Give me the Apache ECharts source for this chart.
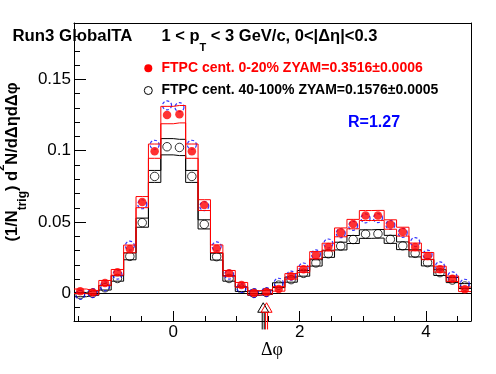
<!DOCTYPE html>
<html><head><meta charset="utf-8">
<script src="https://cdn.jsdelivr.net/npm/echarts@6/dist/echarts.min.js"></script>
<style>html,body{margin:0;padding:0;background:#fff}#c{width:496px;height:374px}</style>
</head><body><div id="c"></div>
<script>
// bin centres in delta-phi (32 bins over [-pi/2, 3pi/2])
const phi = [-1.4726,-1.2763,-1.0799,-0.8836,-0.6872,-0.4909,-0.2945,-0.0982,0.0982,0.2945,0.4909,0.6872,0.8836,1.0799,1.2763,1.4726,1.6690,1.8653,2.0617,2.2580,2.4544,2.6507,2.8471,3.0434,3.2398,3.4361,3.6325,3.8288,4.0252,4.2215,4.4179,4.6142];
const binWidth = 0.19635;
// FTPC cent. 0-20% (red, filled)
const redVals = [0.0015,0.0006,0.0073,0.0148,0.0312,0.0640,0.0997,0.1250,0.1256,0.0997,0.0619,0.0313,0.0141,0.0060,0.0004,0.0010,0.0032,0.0120,0.0169,0.0268,0.0325,0.0428,0.0486,0.0546,0.0547,0.0483,0.0433,0.0326,0.0262,0.0170,0.0103,0.0029];
const redSys  = [0.0016,0.0015,0.0018,0.0020,0.0027,0.0039,0.0050,0.0061,0.0061,0.0050,0.0038,0.0027,0.0020,0.0017,0.0015,0.0015,0.0016,0.0019,0.0021,0.0025,0.0027,0.0031,0.0033,0.0035,0.0035,0.0033,0.0031,0.0027,0.0025,0.0021,0.0019,0.0016];
// FTPC cent. 40-100% (black, open)
const blackVals = [-0.0008,0.0002,0.0040,0.0105,0.0260,0.0496,0.0820,0.1028,0.1023,0.0820,0.0484,0.0258,0.0105,0.0030,0.0002,0.0008,0.0058,0.0097,0.0141,0.0214,0.0278,0.0332,0.0378,0.0416,0.0418,0.0379,0.0334,0.0281,0.0216,0.0146,0.0094,0.0052];
const blackSys  = [0.0015,0.0015,0.0016,0.0019,0.0024,0.0032,0.0042,0.0057,0.0057,0.0042,0.0032,0.0024,0.0019,0.0016,0.0015,0.0015,0.0017,0.0018,0.0020,0.0022,0.0025,0.0027,0.0028,0.0030,0.0030,0.0028,0.0027,0.0025,0.0023,0.0020,0.0018,0.0017];
// peripheral scaled (blue, dashed open)
const blueVals = [-0.0010,0.0003,0.0050,0.0132,0.0335,0.0625,0.1042,0.1318,0.1305,0.1042,0.0612,0.0330,0.0132,0.0038,0.0003,0.0010,0.0075,0.0125,0.0182,0.0274,0.0350,0.0422,0.0474,0.0526,0.0528,0.0480,0.0425,0.0360,0.0272,0.0190,0.0120,0.0068];
// ZYAM positions
const zyamRed = 1.477, zyamBlack = 1.424;
// axis ticks
const yMajorTicks = [0, 0.05, 0.1, 0.15];
const yMinorTicks = [-0.01,0.01,0.02,0.03,0.04,0.06,0.07,0.08,0.09,0.11,0.12,0.13,0.14,0.16,0.17,0.18];
const xMajorTicks = [0, 2, 4];
const xMinorTicks = [-1.5,-1,-0.5,0.5,1,1.5,2.5,3,3.5,4.5];
const XMIN = -Math.PI/2, XMAX = 3*Math.PI/2;
const YMIN = -0.0193, YMAX = 0.1895;

function band(vals, sys, sign){
  const d = [[XMIN, vals[0] + sign*sys[0]]];
  for (let i = 0; i < phi.length; i++) d.push([phi[i], vals[i] + sign*sys[i]]);
  d.push([XMAX, vals[vals.length-1] + sign*sys[sys.length-1]]);
  return d;
}
function pts(vals){ return phi.map((x,i)=>[x, vals[i]]); }
function bandSeries(vals, sys, sign, color, z){
  return {type:'line', step:'middle', data:band(vals, sys, sign), showSymbol:false, symbol:'none',
    lineStyle:{color:color, width:1}, z:z, silent:true, animation:false};
}
function arrowSeries(x, color, z){
  return {type:'custom', data:[[x, 0]], clip:false, z:z, silent:true, animation:false,
    renderItem:function(params, api){
      const p = api.coord([api.value(0), api.value(1)]);
      const cx = p[0], y0 = p[1];
      const apex = y0 + 9.3, base = y0 + 18.8, bottom = y0 + 36;
      return {type:'group', children:[
        {type:'polygon', shape:{points:[[cx, apex],[cx-5.5, base],[cx+5.5, base]]}, style:{fill:'none', stroke:color, lineWidth:1}},
        {type:'line', shape:{x1:cx-1, y1:base, x2:cx-1, y2:bottom}, style:{stroke:color, lineWidth:1}},
        {type:'line', shape:{x1:cx+1, y1:base, x2:cx+1, y2:bottom}, style:{stroke:color, lineWidth:1}}
      ]};
    }};
}

const FONT = '"Liberation Sans", Arial, Helvetica, sans-serif';
const chart = echarts.init(document.getElementById('c'), null, {renderer:'canvas'});
const axisBase = {type:'value', min:XMIN, max:XMAX, splitLine:{show:false}};
chart.setOption({
  animation:false,
  backgroundColor:'#fff',
  grid:{left:74, right:25, top:23, bottom:53, show:false},
  xAxis:[
    Object.assign({}, axisBase, {position:'bottom',
      axisLine:{onZero:false, lineStyle:{color:'#000', width:1}},
      axisTick:{inside:true, length:10, customValues:xMajorTicks, lineStyle:{color:'#000'}},
      axisLabel:{customValues:xMajorTicks, fontSize:17, color:'#000', fontFamily:FONT, margin:2.5}}),
    Object.assign({}, axisBase, {position:'bottom',
      axisLine:{show:false, onZero:false},
      axisTick:{inside:true, length:5, customValues:xMinorTicks, lineStyle:{color:'#000'}},
      axisLabel:{show:false}}),
    Object.assign({}, axisBase, {position:'top',
      axisLine:{onZero:false, lineStyle:{color:'#000', width:1}},
      axisTick:{show:false}, axisLabel:{show:false}})
  ],
  yAxis:[
    {type:'value', min:YMIN, max:YMAX, position:'left', splitLine:{show:false},
      axisLine:{show:true, onZero:false, lineStyle:{color:'#000', width:1}},
      axisTick:{show:true, inside:true, length:12, customValues:yMajorTicks, lineStyle:{color:'#000'}},
      axisLabel:{customValues:yMajorTicks, fontSize:17, color:'#000', fontFamily:FONT, margin:3}},
    {type:'value', min:YMIN, max:YMAX, position:'left', splitLine:{show:false},
      axisLine:{show:false, onZero:false},
      axisTick:{show:true, inside:true, length:6, customValues:yMinorTicks, lineStyle:{color:'#000'}},
      axisLabel:{show:false}},
    {type:'value', min:YMIN, max:YMAX, position:'right', splitLine:{show:false},
      axisLine:{show:true, onZero:false, lineStyle:{color:'#000', width:1}},
      axisTick:{show:false}, axisLabel:{show:false}}
  ],
  series:[
    Object.assign(bandSeries(blackVals, blackSys, 1, '#000', 2), {
      markLine:{silent:true, symbol:['none','none'], label:{show:false},
        lineStyle:{color:'#000', width:1, type:'solid'}, data:[{yAxis:0}], animation:false}}),
    bandSeries(blackVals, blackSys, -1, '#000', 2),
    {type:'scatter', data:pts(blackVals), symbol:'circle', symbolSize:8.5, z:3, silent:true,
      itemStyle:{color:'rgba(0,0,0,0)', borderColor:'#000', borderWidth:1}},
    {type:'scatter', data:pts(blueVals), symbol:'circle', symbolSize:9, z:4, silent:true,
      itemStyle:{color:'rgba(0,0,0,0)', borderColor:'#0000ff', borderWidth:1.2, borderType:[3,2]}},
    bandSeries(redVals, redSys, 1, '#ff0000', 5),
    bandSeries(redVals, redSys, -1, '#ff0000', 5),
    {type:'scatter', data:pts(redVals), symbol:'circle', symbolSize:8.5, z:6, silent:true,
      itemStyle:{color:'#ff0000', borderWidth:0}},
    arrowSeries(zyamBlack, '#000', 7),
    arrowSeries(zyamRed, '#ff0000', 8)
  ],
  graphic:[
    {type:'text', x:12.5, y:36, style:{text:'Run3 GlobalTA', font:'bold 16.8px '+FONT, fill:'#000', align:'left', verticalAlign:'middle'}},
    {type:'text', x:161.5, y:36, style:{
      text:'{b|1 < p}{s|T}{b| < 3 GeV/c, 0<|Δη|<0.3}',
      align:'left', verticalAlign:'middle',
      rich:{
        b:{font:'bold 16.5px '+FONT, fill:'#000', lineHeight:35, verticalAlign:'middle'},
        s:{font:'bold 11px '+FONT, fill:'#000', lineHeight:10, verticalAlign:'bottom'}
      }}},
    {type:'circle', shape:{cx:148.3, cy:68.3, r:4}, style:{fill:'#ff0000'}},
    {type:'text', x:161.5, y:68, style:{text:'FTPC cent. 0-20% ZYAM=0.3516±0.0006', font:'bold 14px '+FONT, fill:'#ff0000', align:'left', verticalAlign:'middle'}},
    {type:'circle', shape:{cx:148.3, cy:90.5, r:4}, style:{fill:'none', stroke:'#000', lineWidth:1}},
    {type:'text', x:161.5, y:90.5, style:{text:'FTPC cent. 40-100% ZYAM=0.1576±0.0005', font:'bold 14px '+FONT, fill:'#000', align:'left', verticalAlign:'middle'}},
    {type:'text', x:348, y:122.5, style:{text:'R=1.27', font:'bold 16px '+FONT, fill:'#0000ff', align:'left', verticalAlign:'middle'}},
    {type:'text', x:272, y:350.5, style:{text:'Δφ', font:'18px "Liberation Serif", "DejaVu Serif", serif', fill:'#000', align:'center', verticalAlign:'middle'}},
    {type:'text', x:12, y:162, rotation:Math.PI/2, style:{
      text:'{b|(1/N}{s|trig}{b|) d}{p|2}{b|N/dΔηdΔφ}',
      align:'center', verticalAlign:'middle',
      rich:{
        b:{font:'bold 16.5px '+FONT, fill:'#000', lineHeight:33, verticalAlign:'middle'},
        s:{font:'bold 12px '+FONT, fill:'#000', lineHeight:11, verticalAlign:'bottom'},
        p:{font:'bold 11px '+FONT, fill:'#000', lineHeight:15, verticalAlign:'top'}
      }}}
  ]
});
</script></body></html>
